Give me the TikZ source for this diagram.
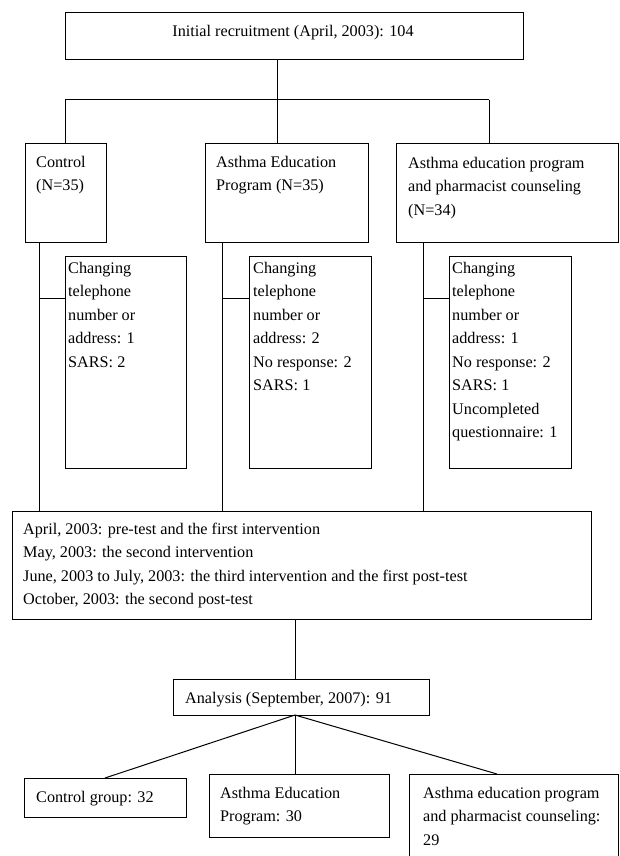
\documentclass[tikz,border=0pt]{standalone}
\usepackage{fontspec}
\setmainfont{Liberation Serif}
\begin{document}
\begin{tikzpicture}[x=1pt,y=-1pt,
  box/.style={draw=black,line width=1pt,fill=none,inner sep=0pt},
  txt/.style={inner sep=0pt,align=left,anchor=north west,
    font=\fontsize{16.2}{23.5}\selectfont},
  conn/.style={draw=black,line width=1pt}]
\useasboundingbox (0,0) rectangle (619,856);
\clip (0,0) rectangle (619,856);
% boxes
\path[box] (65,13) rectangle (523,60);
\node[inner sep=0pt] (top) at (294,36.5) [minimum width=458pt,minimum height=47pt] {};
\node[anchor=base,inner sep=0pt,font=\fontsize{16.2}{23.5}\selectfont] (toptxt) at (293,37) {Initial recruitment (April, 2003): 104};

\node[box,anchor=north west,minimum width=81pt,minimum height=99pt] (ctl) at (25,143) {};
\node[box,anchor=north west,minimum width=163pt,minimum height=99pt] (aep) at (205,143) {};
\node[box,anchor=north west,minimum width=221.5pt,minimum height=99pt] (apc) at (396,143) {};

\node[box,anchor=north west,minimum width=121pt,minimum height=212pt] (s1) at (65,256) {};
\node[box,anchor=north west,minimum width=122pt,minimum height=212pt] (s2) at (249,256) {};
\node[box,anchor=north west,minimum width=122pt,minimum height=212pt] (s3) at (449,256) {};

\node[box,anchor=north west,minimum width=579pt,minimum height=108pt] (big) at (12,511) {};
\node[box,anchor=north west,minimum width=256pt,minimum height=36pt] (ana) at (173,679) {};

\node[box,anchor=north west,minimum width=162pt,minimum height=39pt] (b1) at (24,778) {};
\node[box,anchor=north west,minimum width=180pt,minimum height=63pt] (b2) at (209,774) {};
\node[box,anchor=north west,minimum width=208.5pt,minimum height=100pt] (b3) at (409,774) {};

% texts
\node[txt] at (36,150.5) {\strut Control\\(N=35)};
\node[txt] at (216,150.5) {\strut Asthma Education\\Program (N=35)};
\node[txt] at (408,151.5) {\strut Asthma education program\\and pharmacist counseling\\(N=34)};
\node[txt] at (68,256.5) {\strut Changing\\telephone\\number or\\address: 1\\SARS: 2};
\node[txt] at (253,256.5) {\strut Changing\\telephone\\number or\\address: 2\\No response: 2\\SARS: 1};
\node[txt] at (452,256.5) {\strut Changing\\telephone\\number or\\address: 1\\No response: 2\\SARS: 1\\Uncompleted\\questionnaire: 1};
\node[txt] at (23,517.5) {\strut April, 2003: pre-test and the first intervention\\May, 2003: the second intervention\\June, 2003 to July, 2003: the third intervention and the first post-test\\October, 2003: the second post-test};
\node[txt] at (185,686.5) {\strut Analysis (September, 2007): 91};
\node[txt] at (36,785.5) {\strut Control group: 32};
\node[txt] at (220,781.5) {\strut Asthma Education\\Program: 30};
\node[txt] at (423,781.5) {\strut Asthma education program\\and pharmacist counseling:\\29};

% connectors
\coordinate (tl) at (277,60);
\coordinate (hL) at (65,100);
\coordinate (hR) at (489,100);
\draw[conn] (tl) -- (aep.north -| tl);
\draw[conn] (hL) -- (hR);
\draw[conn] (hL) -- (ctl.north -| hL);
\draw[conn] (hR) -- (apc.north -| hR);

\coordinate (v1) at (39,242);
\coordinate (v2) at (222,242);
\coordinate (v3) at (423,242);
\draw[conn] (v1) -- (big.north -| v1);
\draw[conn] (v2) -- (big.north -| v2);
\draw[conn] (v3) -- (big.north -| v3);
\draw[conn] (39,298) -- (s1.west |- 0,298);
\draw[conn] (222,298) -- (s2.west |- 0,298);
\draw[conn] (423,298) -- (s3.west |- 0,298);

\coordinate (bv) at (295,619);
\draw[conn] (bv) -- (ana.north -| bv);
\coordinate (af) at (295,715);
\draw[conn] (af) -- (105,778);
\draw[conn] (af) -- (b2.north -| af);
\draw[conn] (af) -- (497,774);
\end{tikzpicture}
\end{document}
